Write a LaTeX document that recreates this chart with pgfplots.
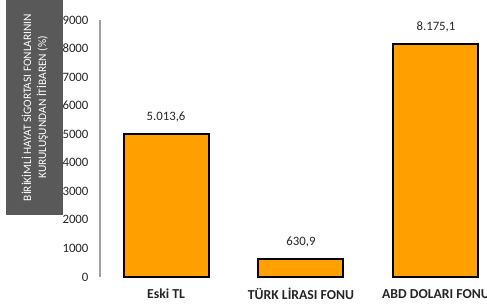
\documentclass[border=0pt]{standalone}
\usepackage{fontspec}
\setmainfont{Carlito}
\usepackage{pgfplots}
\pgfplotsset{compat=1.18}
\definecolor{barorange}{HTML}{FFA000}
\definecolor{boxgray}{HTML}{595959}
\definecolor{txt}{HTML}{262626}
\begin{document}
\begin{tikzpicture}
\fill[boxgray] (6pt,90pt) rectangle (63pt,305pt);
\node[rotate=90, align=center, text=white, font=\fontsize{11.4}{15}\selectfont, inner sep=0pt] at (35pt,197.5pt)
  {BİRİKİMLİ HAYAT SİGORTASI FONLARININ\\KURULUŞUNDAN  İTİBAREN (\%)};
\begin{axis}[
  at={(100pt,28pt)}, anchor=south west,
  scale only axis, width=387pt, height=257pt,
  xmin=-0.489, xmax=2.378, ymin=0, ymax=9000,
  axis y line*=left, axis x line*=bottom,
  x axis line style={draw=none},
  y axis line style={draw={rgb,255:red,160;green,160;blue,160}, line width=1.2pt, -},
  major tick length=0pt,
  xtick={0,1,2},
  xticklabels={Eski TL, TÜRK LİRASI FONU, ABD DOLARI FONU},
  xticklabel style={font=\fontsize{13.7}{15}\selectfont\bfseries, text=txt, anchor=center, yshift=-17pt},
  ytick={0,1000,...,9000},
  yticklabel style={font=\fontsize{12.8}{14}\selectfont, text=txt, anchor=east, xshift=-8pt},
  /pgf/number format/assume math mode=true,
  scaled y ticks=false,
  yticklabel={\pgfmathprintnumber[fixed, precision=0, 1000 sep={}]{\tick}},
  ybar, bar width=85pt,
  point meta=explicit symbolic,
  nodes near coords,
  every node near coord/.append style={font=\fontsize{12.8}{14}\selectfont, text=txt, anchor=center, yshift=17pt},
  clip=false,
]
\addplot[fill=barorange, draw=black, line width=2pt] table[x=x, y=y, meta=label] {
x y label
0 5013.6 {5.013,6}
1 630.9 {630,9}
2 8175.1 {8.175,1}
};
\end{axis}
\pgfresetboundingbox
\useasboundingbox (0,0) rectangle (487pt,305pt);
\end{tikzpicture}
\end{document}
